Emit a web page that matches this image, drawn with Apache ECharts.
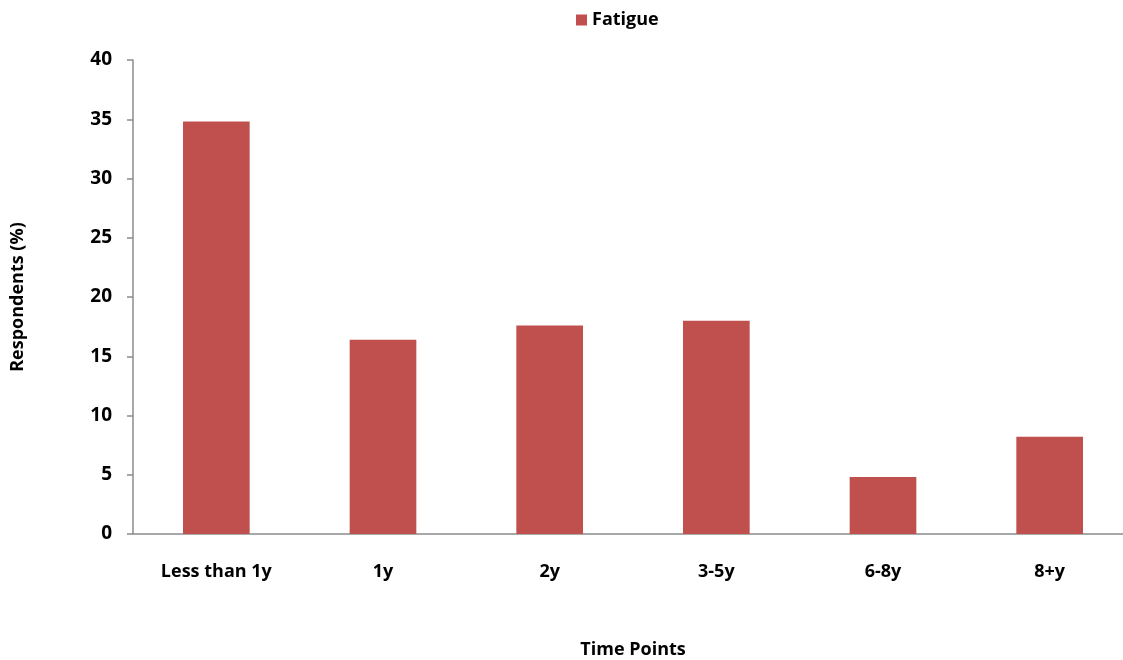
<!DOCTYPE html>
<html>
<head>
<meta charset="utf-8">
<script src="https://cdn.jsdelivr.net/npm/echarts@6/dist/echarts.min.js"></script>
<style>
  html, body { margin: 0; padding: 0; background: #fff; }
  #chart { width: 1123px; height: 660px; }
</style>
</head>
<body>
<div id="chart"></div>
<script>
// Share of respondents reporting fatigue, by time point
const categories = ['Less than 1y', '1y', '2y', '3-5y', '6-8y', '8+y'];
const fatigue = [34.8, 16.4, 17.6, 18.0, 4.8, 8.2];
const yTicks = [0, 5, 10, 15, 20, 25, 30, 35, 40];

const FONT = '"Open Sans", Lato, sans-serif';
const FS = 18;
const axisGray = '#8c8c8c';
const boldText = { fontFamily: FONT, fontWeight: 'bold', fontSize: FS, color: '#000' };

const chart = echarts.init(document.getElementById('chart'));
chart.setOption({
  animation: false,
  backgroundColor: '#fff',
  textStyle: { fontFamily: FONT },
  legend: {
    top: 6,
    left: 571,
    itemWidth: 11,
    itemHeight: 11,
    itemGap: 6,
    icon: 'rect',
    textStyle: boldText,
    data: ['Fatigue']
  },
  grid: {
    left: 133, right: -10, top: 60, bottom: 126,
    containLabel: false,
    outerBoundsMode: 'none'
  },
  xAxis: {
    type: 'category',
    data: categories,
    name: 'Time Points',
    nameLocation: 'middle',
    nameGap: 107,
    nameTextStyle: boldText,
    axisLine: { lineStyle: { color: axisGray, width: 1.5 } },
    axisTick: { show: false },
    axisLabel: Object.assign({ margin: 29 }, boldText)
  },
  yAxis: {
    type: 'value',
    min: yTicks[0],
    max: yTicks[yTicks.length - 1],
    interval: yTicks[1] - yTicks[0],
    name: 'Respondents (%)',
    nameLocation: 'middle',
    nameGap: 106,
    nameTextStyle: boldText,
    axisLine: { show: true, lineStyle: { color: axisGray, width: 1.5 } },
    axisTick: { show: true, length: 6, lineStyle: { color: axisGray, width: 1.5 } },
    splitLine: { show: false },
    axisLabel: Object.assign({ margin: 21 }, boldText, { fontSize: 19 })
  },
  series: [{
    name: 'Fatigue',
    type: 'bar',
    data: fatigue,
    barWidth: '40%',
    itemStyle: { color: '#C0504D' }
  }]
});
</script>
</body>
</html>
